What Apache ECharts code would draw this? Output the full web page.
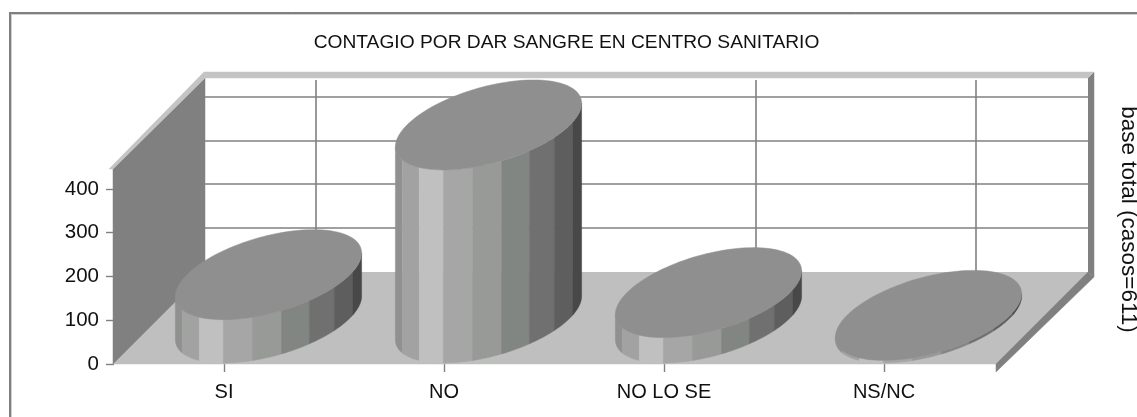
<!DOCTYPE html>
<html>
<head>
<meta charset="utf-8">
<style>html,body{margin:0;padding:0;background:#fff}#c{width:1137px;height:417px}</style>
<script src="https://cdn.jsdelivr.net/npm/echarts@6/dist/echarts.min.js"></script>
</head>
<body>
<div id="c"></div>
<script>
var categories = ['SI', 'NO', 'NO LO SE', 'NS/NC'];
var casos = [99, 441, 58, 6];
var valueTicks = [0, 100, 200, 300, 400];
var titleText = 'CONTAGIO POR DAR SANGRE EN CENTRO SANITARIO';
var sideText = 'base total (casos=611)';

var DEPTH = 92;
var HALF_WIDE = 81.5, HALF_DEEP = 45;
var FACET_EDGES = [180, 158, 138, 119, 100, 82, 64, 45, 25, 0];
var FACET_SHADES = ['#8e918e', '#a2a2a2', '#c0c0c0', '#a6a6a6', '#989a98', '#828682', '#707070', '#5e5e5e', '#484848'];
var FONT = '"Liberation Sans", Arial, sans-serif';

var chart = echarts.init(document.getElementById('c'), null, {renderer: 'canvas'});

function poly(points, fill, stroke, lw) {
  return {type: 'polygon', shape: {points: points},
    style: {fill: fill, stroke: stroke || fill, lineWidth: lw === undefined ? 0.5 : lw}};
}
function line(x1, y1, x2, y2, color, w) {
  return {type: 'line', shape: {x1: x1, y1: y1, x2: x2, y2: y2},
    style: {stroke: color, lineWidth: w, fill: null}};
}

function renderWalls(params, api) {
  var g = params.coordSys;
  var L = g.x - 1, R = g.x + g.width + 2, T = g.y, B = g.y + g.height;
  var d = DEPTH, e = 6;
  var kids = [];
  // floor
  kids.push(poly([[L, B], [L + d, B - d], [R + d, B - d], [R, B]], '#bfbfbf'));
  // right edge strips of the floor and of the back wall
  kids.push(poly([[R, B], [R + d, B - d], [R + d + e, B - d + 5], [R, B + 8]], '#808080'));
  kids.push(poly([[R + d, T - d + 3], [R + d + e, T - d - 3], [R + d + e, B - d + 5], [R + d, B - d]], '#808080'));
  // back wall
  kids.push(poly([[L + d, T - d + 3], [R + d, T - d + 3], [R + d, B - d], [L + d, B - d]], '#ffffff', '#ffffff', 0));
  // back wall grid lines
  for (var i = 0; i < valueTicks.length; i++) {
    var y = Math.round(api.coord([0, valueTicks[i]])[1] - d);
    if (valueTicks[i] > 0) kids.push(line(L + d, y, R + d, y, '#808080', 1.6));
  }
  for (var c = 0; c < categories.length; c++) {
    var xx = Math.round(api.coord([c, 0])[0] + d);
    kids.push(line(xx, T - d + 5, xx, B - d, '#808080', 1.6));
  }
  // left wall
  kids.push(poly([[L, T + 2], [L + d, T - d + 3], [L + d, B - d], [L, B]], '#808080'));
  // top bands
  kids.push(poly([[L + d, T - d - 3], [R + d + e, T - d - 3], [R + d, T - d + 3], [L + d, T - d + 3]], '#c4c4c4'));
  kids.push(poly([[L - 4, T + 2], [L + d - 1, T - d - 3], [L + d, T - d - 3], [L + d, T - d + 3], [L, T + 2]], '#c4c4c4'));
  return {type: 'group', children: kids};
}

function rim(cx, cy, deg) {
  var f = deg * Math.PI / 180;
  var A = Math.sqrt(HALF_WIDE * HALF_WIDE + HALF_DEEP * HALF_DEEP);
  var t0 = Math.atan2(HALF_DEEP, HALF_WIDE);
  return [cx + A * Math.cos(f), cy - HALF_DEEP * Math.sin(f + t0)];
}

function renderCylinder(params, api) {
  var top = api.coord([api.value(0), api.value(1)]);
  var base = api.coord([api.value(0), 0]);
  var cx = base[0] + DEPTH / 2 - 1.5;
  var yTop = top[1] - DEPTH / 2, yBase = base[1] - DEPTH / 2;
  var kids = [];
  for (var i = 0; i < FACET_SHADES.length; i++) {
    var a = -FACET_EDGES[i], b = -FACET_EDGES[i + 1];
    var upper = [], lower = [];
    for (var s = 0; s <= 8; s++) {
      var deg = a + (b - a) * s / 8;
      upper.push(rim(cx, yTop, deg));
      lower.unshift(rim(cx, yBase, deg));
    }
    kids.push(poly(upper.concat(lower), FACET_SHADES[i]));
  }
  var cap = [];
  for (var k = 0; k < 120; k++) cap.push(rim(cx, yTop, k * 3));
  kids.push(poly(cap, '#8f8f8f'));
  return {type: 'group', children: kids};
}

chart.setOption({
  animation: false,
  backgroundColor: '#ffffff',
  textStyle: {fontFamily: FONT},
  title: {
    text: titleText, left: 561.5, top: 28, textAlign: 'center',
    textStyle: {fontFamily: FONT, fontSize: 19.2, fontWeight: 'normal', color: '#111'}
  },
  grid: {left: 114, top: 167, width: 880, height: 197, containLabel: false},
  xAxis: {
    type: 'category', data: categories,
    axisLine: {show: false},
    axisTick: {show: true, alignWithLabel: true, length: 8, lineStyle: {color: '#808080', width: 1.4}},
    axisLabel: {fontFamily: FONT, fontSize: 20, color: '#111', margin: 18, interval: 0},
    splitLine: {show: false}
  },
  yAxis: {
    type: 'value', min: 0, max: 450, interval: 100,
    axisLine: {show: false},
    axisTick: {show: true, length: 8, lineStyle: {color: '#808080', width: 1.4}, customValues: valueTicks},
    axisLabel: {fontFamily: FONT, fontSize: 20.5, color: '#111', margin: 15, customValues: valueTicks},
    splitLine: {show: false}
  },
  graphic: [
    {type: 'line', shape: {x1: 10, y1: 13, x2: 10, y2: 417}, style: {stroke: '#808080', lineWidth: 2}, silent: true},
    {type: 'line', shape: {x1: 11.5, y1: 15, x2: 11.5, y2: 417}, style: {stroke: '#cfcfcf', lineWidth: 1}, silent: true},
    {type: 'line', shape: {x1: 9, y1: 13, x2: 1137, y2: 13}, style: {stroke: '#808080', lineWidth: 2}, silent: true},
    {type: 'line', shape: {x1: 11, y1: 14.5, x2: 1137, y2: 14.5}, style: {stroke: '#cfcfcf', lineWidth: 1}, silent: true},
    {type: 'text', x: 1128, y: 219.5, rotation: -Math.PI / 2,
      style: {text: sideText, font: '22.5px ' + FONT, fill: '#111', textAlign: 'center', textVerticalAlign: 'middle'}}
  ],
  series: [
    {type: 'custom', name: 'paredes', data: [[0, 0]], renderItem: renderWalls, z: 1, silent: true, clip: false},
    {type: 'custom', name: 'casos', data: casos.map(function (v, i) { return [i, v]; }),
      encode: {x: 0, y: 1}, renderItem: renderCylinder, z: 3, silent: true, clip: false}
  ]
});
</script>
</body>
</html>
